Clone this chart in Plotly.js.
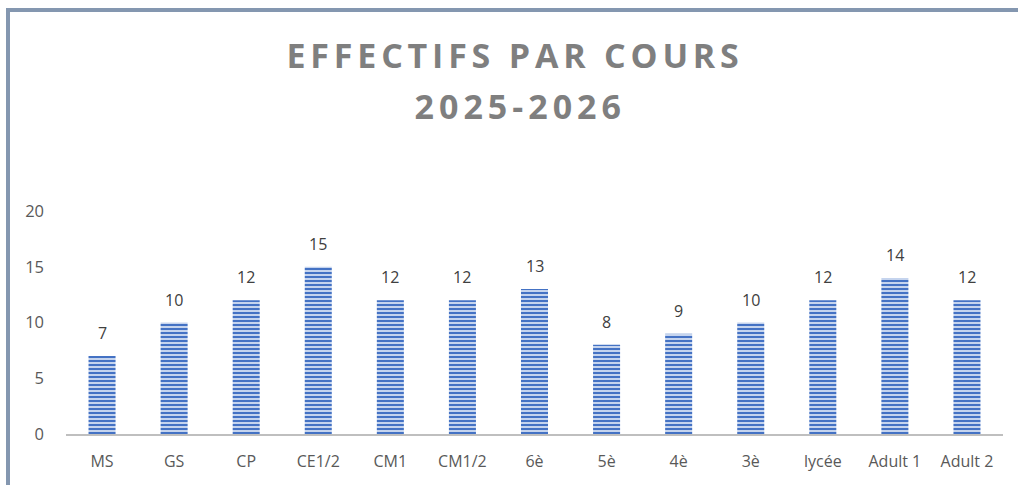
<!DOCTYPE html>
<html>
<head>
<meta charset="utf-8">
<script src="https://cdn.plot.ly/plotly-3.0.1.min.js"></script>
<style>
  html, body { margin: 0; padding: 0; background: #fff; }
  #wrap { position: relative; width: 1018px; height: 485px; overflow: hidden; }
  #chart { position: absolute; left: 0; top: 0; width: 1018px; height: 485px; }
  #frame { position: absolute; left: 6px; top: 8px; width: 1100px; height: 600px;
           border-top: 4px solid #8497B0; border-left: 4px solid #8497B0; pointer-events: none; }
  .gtitle { letter-spacing: 4.8px; }
  .annotation-text.big { letter-spacing: 5px; }
</style>
</head>
<body>
<div id="wrap">
  <div id="chart"></div>
  <div id="frame"></div>
</div>
<script>
const categories = ["MS", "GS", "CP", "CE1/2", "CM1", "CM1/2", "6è", "5è", "4è", "3è", "lycée", "Adult 1", "Adult 2"];
const effectifs = [7, 10, 12, 15, 12, 12, 13, 8, 9, 10, 12, 14, 12];
const titleLine1 = "EFFECTIFS PAR COURS";
const titleLine2 = "2025-2026";
const yTicks = [0, 5, 10, 15, 20];

const trace = {
  type: "bar",
  x: categories,
  y: effectifs,
  width: 0.375,
  marker: {
    color: "#C5D4EE",
    line: { width: 0 },
    pattern: { shape: "-", fgcolor: "#4472C4", bgcolor: "#C5D4EE", size: 4, solidity: 0.5, fillmode: "replace" }
  },
  hoverinfo: "skip"
};

const labelAnnotations = categories.map((c, i) => ({
  x: c, y: effectifs[i], xref: "x", yref: "y",
  text: String(effectifs[i]), showarrow: false,
  yanchor: "bottom", yshift: 10,
  font: { family: "Open Sans", size: 16, color: "#404040" }
}));

const layout = {
  width: 1018, height: 485,
  margin: { l: 66, r: 15, t: 211, b: 51 },
  paper_bgcolor: "#ffffff",
  plot_bgcolor: "#ffffff",
  showlegend: false,
  title: {
    text: titleLine1,
    x: 0.506, xanchor: "center",
    y: 0.86, yanchor: "bottom",
    font: { family: "Open Sans", size: 34, color: "#7F7F7F", weight: 700 }
  },
  xaxis: {
    type: "category",
    showline: true, linecolor: "#BFBFBF", linewidth: 2,
    showgrid: false, zeroline: false, ticks: "",
    tickfont: { family: "Open Sans", size: 16, color: "#595959" },
    ticklabelstandoff: 12,
    fixedrange: true
  },
  yaxis: {
    range: [0, 20],
    tickvals: yTicks,
    showline: false, showgrid: false, zeroline: false, ticks: "",
    tickfont: { family: "Open Sans", size: 16.5, color: "#595959" },
    ticklabelstandoff: 21,
    fixedrange: true
  },
  annotations: labelAnnotations.concat([{
    xref: "paper", yref: "paper", x: 0.484, y: 1.47,
    xanchor: "center", yanchor: "middle",
    text: titleLine2, showarrow: false,
    font: { family: "Open Sans", size: 34, color: "#7F7F7F", weight: 700 }
  }])
};

Plotly.newPlot("chart", [trace], layout, { displayModeBar: false, staticPlot: true }).then(() => {
  document.querySelectorAll(".annotation-text").forEach(el => {
    if (el.textContent === titleLine2) el.classList.add("big");
  });
});
</script>
</body>
</html>
